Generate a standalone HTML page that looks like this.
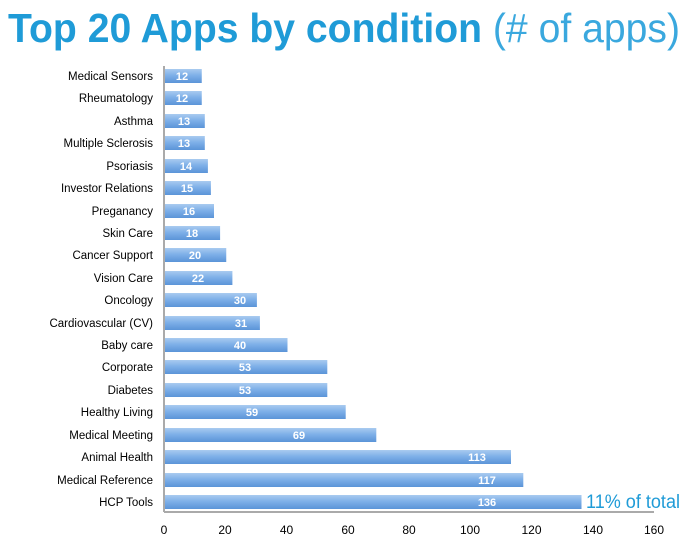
<!DOCTYPE html>
<html><head><style>
body{margin:0;background:#fff;width:688px;height:543px;overflow:hidden}
</style></head><body>
<svg width="688" height="543" xmlns="http://www.w3.org/2000/svg" font-family="Liberation Sans, sans-serif">
<defs>
<linearGradient id="g" x1="0" y1="0" x2="0" y2="1">
<stop offset="0" stop-color="#a9cbf0"/><stop offset="0.45" stop-color="#7fb0e8"/><stop offset="1" stop-color="#5b94d8"/>
</linearGradient>
</defs>
<text x="8" y="42" font-size="41" fill="#1f9bd7" textLength="672" lengthAdjust="spacingAndGlyphs"><tspan font-weight="bold">Top 20 Apps by condition</tspan> <tspan fill="#3aa8de">(# of apps)</tspan></text>
<g fill="url(#g)">
<rect x="165" y="69" width="36.75" height="14"/>
<rect x="165" y="91" width="36.75" height="14"/>
<rect x="165" y="114" width="39.8" height="14"/>
<rect x="165" y="136" width="39.8" height="14"/>
<rect x="165" y="159" width="42.9" height="14"/>
<rect x="165" y="181" width="45.9" height="14"/>
<rect x="165" y="204" width="49" height="14"/>
<rect x="165" y="226" width="55.1" height="14"/>
<rect x="165" y="248" width="61.25" height="14"/>
<rect x="165" y="271" width="67.4" height="14"/>
<rect x="165" y="293" width="91.9" height="14"/>
<rect x="165" y="316" width="94.9" height="14"/>
<rect x="165" y="338" width="122.5" height="14"/>
<rect x="165" y="360" width="162.3" height="14"/>
<rect x="165" y="383" width="162.3" height="14"/>
<rect x="165" y="405" width="180.7" height="14"/>
<rect x="165" y="428" width="211.3" height="14"/>
<rect x="165" y="450" width="346" height="14"/>
<rect x="165" y="473" width="358.3" height="14"/>
<rect x="165" y="495" width="416.5" height="14"/>
</g>
<g font-size="11.5" text-anchor="end" fill="#000">
<text x="153" y="80">Medical Sensors</text>
<text x="153" y="102">Rheumatology</text>
<text x="153" y="125">Asthma</text>
<text x="153" y="147">Multiple Sclerosis</text>
<text x="153" y="170">Psoriasis</text>
<text x="153" y="192">Investor Relations</text>
<text x="153" y="215">Preganancy</text>
<text x="153" y="237">Skin Care</text>
<text x="153" y="259">Cancer Support</text>
<text x="153" y="282">Vision Care</text>
<text x="153" y="304">Oncology</text>
<text x="153" y="327">Cardiovascular (CV)</text>
<text x="153" y="349">Baby care</text>
<text x="153" y="371">Corporate</text>
<text x="153" y="394">Diabetes</text>
<text x="153" y="416">Healthy Living</text>
<text x="153" y="439">Medical Meeting</text>
<text x="153" y="461">Animal Health</text>
<text x="153" y="484">Medical Reference</text>
<text x="153" y="506">HCP Tools</text>
</g>
<g font-size="11" font-weight="bold" text-anchor="middle" fill="#fff">
<text x="182" y="80">12</text>
<text x="182" y="102">12</text>
<text x="184" y="125">13</text>
<text x="184" y="147">13</text>
<text x="186" y="170">14</text>
<text x="187" y="192">15</text>
<text x="189" y="215">16</text>
<text x="192" y="237">18</text>
<text x="195" y="259">20</text>
<text x="198" y="282">22</text>
<text x="240" y="304">30</text>
<text x="241" y="327">31</text>
<text x="240" y="349">40</text>
<text x="245" y="371">53</text>
<text x="245" y="394">53</text>
<text x="252" y="416">59</text>
<text x="299" y="439">69</text>
<text x="477" y="461">113</text>
<text x="487" y="484">117</text>
<text x="487" y="506">136</text>
</g>
<line x1="164" y1="66" x2="164" y2="512" stroke="#aaa" stroke-width="2"/>
<line x1="164" y1="512" x2="654" y2="512" stroke="#aaa" stroke-width="2"/>
<g font-size="12" fill="#000" text-anchor="middle">
<text x="164" y="534">0</text><text x="225" y="534">20</text><text x="286.5" y="534">40</text><text x="348" y="534">60</text><text x="409" y="534">80</text><text x="470" y="534">100</text><text x="531.5" y="534">120</text><text x="593" y="534">140</text><text x="654" y="534">160</text>
</g>
<text x="586" y="508" font-size="19" fill="#1f9bd7" textLength="94" lengthAdjust="spacingAndGlyphs">11% of total</text>
</svg>
</body></html>
